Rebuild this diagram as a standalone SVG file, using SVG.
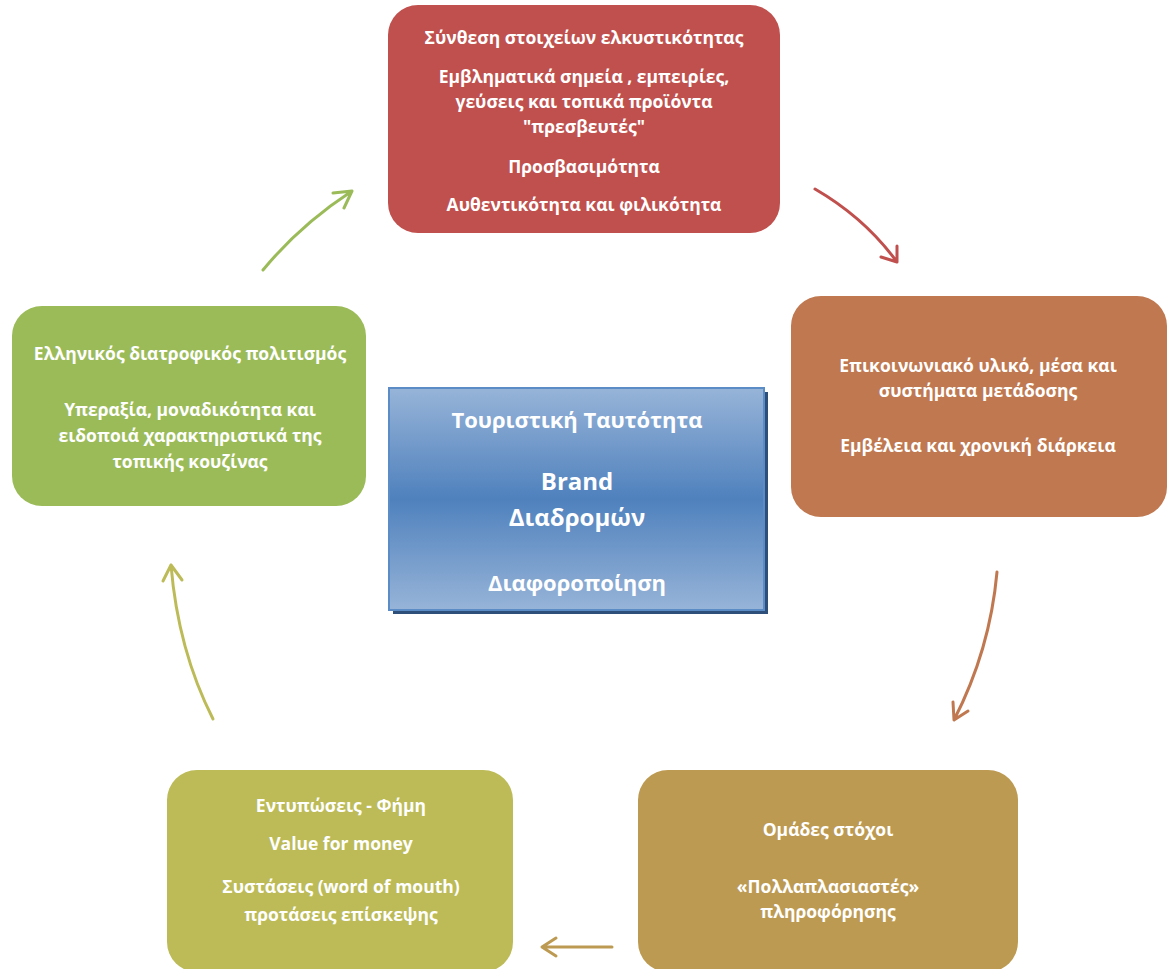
<svg xmlns="http://www.w3.org/2000/svg" width="1168" height="969" viewBox="0 0 1168 969">
<style>
text{font-family:"Open Sans","Liberation Sans",sans-serif;font-weight:bold;fill:#fff;text-anchor:middle;font-size:17.5px}
.c{font-size:22px}
.cb{font-size:24px}
.ar{fill:none;stroke-width:3;stroke-linecap:round;stroke-linejoin:round}
</style>
<defs>
<linearGradient id="bg" x1="0" y1="0" x2="0" y2="1">
<stop offset="0" stop-color="#97B4D8"/>
<stop offset="0.5" stop-color="#4F81BD"/>
<stop offset="1" stop-color="#97B4D8"/>
</linearGradient>
</defs>
<rect width="1168" height="969" fill="#fff"/>
<g id="n-top">
<rect x="388" y="5" width="392" height="228" rx="30" fill="#C0504D"/>
<text x="584" y="44">Σύνθεση στοιχείων ελκυστικότητας</text>
<text x="584" y="83">Εμβληματικά σημεία , εμπειρίες,</text>
<text x="584" y="108">γεύσεις και τοπικά προϊόντα</text>
<text x="584" y="133">"πρεσβευτές"</text>
<text x="584" y="173">Προσβασιμότητα</text>
<text x="584" y="211">Αυθεντικότητα και φιλικότητα</text>
</g>
<g id="n-right">
<rect x="791" y="296" width="376" height="221" rx="30" fill="#BF7850"/>
<text x="978" y="372">Επικοινωνιακό υλικό, μέσα και</text>
<text x="978" y="397">συστήματα μετάδοσης</text>
<text x="978" y="452">Εμβέλεια και χρονική διάρκεια</text>
</g>
<g id="n-bottomright">
<rect x="638" y="770" width="380" height="202" rx="30" fill="#BD9A52"/>
<text x="828" y="836">Ομάδες στόχοι</text>
<text x="828" y="893">«Πολλαπλασιαστές»</text>
<text x="828" y="918">πληροφόρησης</text>
</g>
<g id="n-bottomleft">
<rect x="167" y="770" width="346" height="202" rx="30" fill="#BCBB57"/>
<text x="341" y="812">Εντυπώσεις - Φήμη</text>
<text x="341" y="850">Value for money</text>
<text x="341" y="893">Συστάσεις (word of mouth)</text>
<text x="341" y="921">προτάσεις επίσκεψης</text>
</g>
<g id="n-left">
<rect x="12" y="306" width="354" height="200" rx="30" fill="#9BBB59"/>
<text x="190" y="360">Ελληνικός διατροφικός πολιτισμός</text>
<text x="190" y="416">Υπεραξία, μοναδικότητα και</text>
<text x="190" y="442">ειδοποιά χαρακτηριστικά της</text>
<text x="190" y="468">τοπικής κουζίνας</text>
</g>
<g id="n-center">
<rect x="393" y="392" width="375" height="222" fill="#2E4F7A"/>
<rect x="389" y="388" width="375" height="222" fill="url(#bg)" stroke="#5B8CC6" stroke-width="2"/>
<text class="c" x="577" y="428">Τουριστική Ταυτότητα</text>
<text class="cb" x="577" y="490">Brand</text>
<text class="cb" x="577" y="526">Διαδρομών</text>
<text class="c" x="577" y="591">Διαφοροποίηση</text>
</g>
<g id="connectors">
<path class="ar" stroke="#9BBB59" d="M263 270 Q300 225 352 191 M333 193 L352 191 L344 208"/>
<path class="ar" stroke="#C0504D" d="M815 189 Q865 218 897 262 M897 246 L897 262 L881 257"/>
<path class="ar" stroke="#C07850" d="M997 572 Q990 650 954 720 M953 702 L954 720 L968 711"/>
<path class="ar" stroke="#BD9A52" d="M612 947 L542 947 M556 938 L542 947 L556 956"/>
<path class="ar" stroke="#BCBB57" d="M213 719 Q178 650 171 565 M163 581 L171 565 L182 580"/>
</g>
</svg>
